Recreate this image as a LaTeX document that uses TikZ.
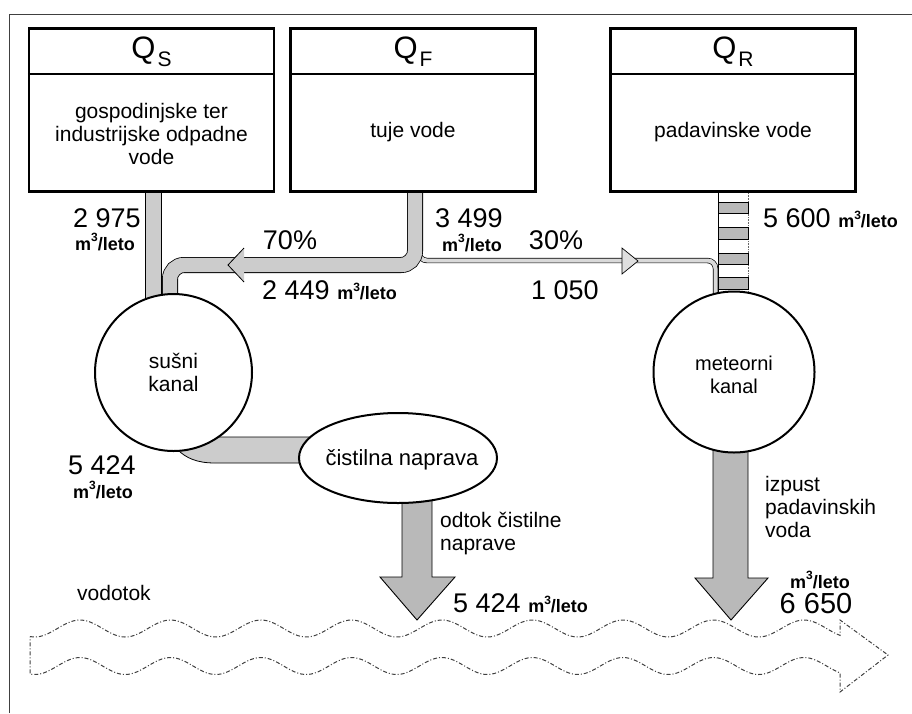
\documentclass[tikz,border=0pt]{standalone}
\usepackage{fontspec}
\setmainfont{Liberation Sans}
\usetikzlibrary{shapes.geometric}
\newcommand\mlt{{\fontsize{18}{20}\selectfont\bfseries m\raisebox{0.45em}{\fontsize{12}{12}\selectfont 3}/leto}}
\newcommand\bignum{\fontsize{27}{30}\selectfont}
\newcommand\bodyfs{\fontsize{21}{23}\selectfont}
\newcommand\qlabel[1]{{\fontsize{31}{33}\selectfont Q\kern2pt\raisebox{-0.25em}{\fontsize{21}{21}\selectfont #1}}}
\begin{document}
\begin{tikzpicture}[x=1pt,y=-1pt,
  box/.style={draw, line width=2.4pt, fill=white, minimum width=245pt, minimum height=163pt, inner sep=0pt},
  txt/.style={inner sep=0pt, font=\bodyfs, align=center},
  num/.style={inner sep=0pt, font=\bignum},
  band/.style={draw=black, line width=0.8pt, fill=gray!40},
  darkband/.style={draw=black, line width=0.9pt, fill=gray!55},
  pipe/.style={line width=0.8pt, double=gray!40, double distance=14.4pt, rounded corners=14pt},
  thinpipe/.style={line width=0.7pt, double=gray!30, double distance=4pt, rounded corners=8pt},
  tank/.style={draw, line width=2pt, fill=white, circle, minimum size=157pt, inner sep=0pt},
  river/.style={draw=black!75, line width=1pt, dash pattern=on 4pt off 2pt on 1pt off 2pt}
]
\useasboundingbox (0,0) rectangle (912,713);
% frame
\draw[line width=1pt, black!75] (9,713) -- (9,14) -- (912,14);

% river
\draw[river] (30,{628.5-8.5*cos(3.978*(30-80))}) -- plot[domain=30:840,samples=240] (\x,{628.5-8.5*cos(3.978*(\x-80))}) -- (840,620) -- (888,655) -- (840,692) -- plot[domain=840:30,samples=240] (\x,{666-8.5*cos(3.978*(\x-80))}) -- cycle;

% pipes
\draw[band] (145,185) rectangle (161,330);
\draw[thinpipe] (419,230) -- (419,260.5) -- (715.5,260.5) -- (715.5,330);
\draw[pipe] (415,180) -- (415,265) -- (170,265) -- (170,330);
% arrow heads on pipes
\fill[gray!40] (244,248) -- (228,265) -- (244,282) -- cycle;
\draw[line width=0.8pt] (244,248) -- (228,265) -- (244,282);
\filldraw[fill=gray!25, draw=black, line width=0.7pt] (622,248) -- (638,261) -- (622,274) -- cycle;
% striped rain pipe
\draw[line width=0.6pt] (718,193) -- (718,300);
\draw[line width=0.6pt, densely dotted, black!60] (748,193) -- (748,300);
\foreach \ya/\yb in {202/213, 227/239, 253/264, 277/289}
  \filldraw[fill=gray!55, draw=black, line width=0.6pt] (718,\ya) rectangle (748,\yb);

% dry channel to treatment plant
\filldraw[band] (190,437) -- (330,437) -- (330,463) -- (215,463) .. controls (197,463) and (186,458) .. (178,450) -- cycle;
% outflow arrows
\filldraw[darkband] (402,470) -- (402,577) -- (380,577) -- (417,620) -- (455,577) -- (432,577) -- (432,470) -- cycle;
\filldraw[darkband] (713,420) -- (713,578) -- (695,578) -- (731,620) -- (768,578) -- (748,578) -- (748,420) -- cycle;

% tanks
\node[tank] (susni) at (173.5,372.5) {};
\node[tank, minimum size=161pt] (meteor) at (734,372) {};
\node[draw, line width=2pt, fill=white, ellipse, minimum width=198pt, minimum height=90pt, inner sep=0pt] (cistilna) at (398,458) {};

% boxes
\node[box] (qs) at (151.5,110) {};
\node[box] (qf) at (413,110) {};
\node[box] (qr) at (733,110) {};
\draw[line width=2pt] (qs.west |- 0,74) -- (qs.east |- 0,74);
\draw[line width=2pt] (qf.west |- 0,74) -- (qf.east |- 0,74);
\draw[line width=2pt] (qr.west |- 0,74) -- (qr.east |- 0,74);

% box texts
\node[inner sep=0pt] (qsl) at (151.5,52) {\qlabel{S}};
\node[inner sep=0pt] (qfl) at (413,52) {\qlabel{F}};
\node[inner sep=0pt] (qrl) at (733,52) {\qlabel{R}};
\node[txt] (qst) at (151.5,134) {gospodinjske ter\\industrijske odpadne\\vode};
\node[txt] (qft) at (413,132) {tuje vode};
\node[txt] (qrt) at (733,132) {padavinske vode};

% tank texts
\node[txt] (susnit) at (173.5,372) {sušni\\kanal};
\node[txt, font=\fontsize{20}{23}\selectfont] (meteort) at (734,375) {meteorni\\kanal};
\node[txt, font=\fontsize{22}{24}\selectfont] (cistilnat) at (402,460) {čistilna naprava};

% quantities
\node[num, anchor=east] (n2975) at (141,218) {2 975};
\node[inner sep=0pt] (m2975) at (105,242) {\mlt};
\node[num] (p70) at (290,240) {70\%};
\node[num, anchor=west] (n2449) at (262,290) {2 449 \mlt};
\node[num, anchor=west] (n3499) at (435,218) {3 499};
\node[inner sep=0pt] (m3499) at (472,243) {\mlt};
\node[num] (p30) at (556,240) {30\%};
\node[num] (n1050) at (565,290) {1 050};
\node[num, anchor=west] (n5600) at (763,218) {5 600 \mlt};
\node[num] (n5424a) at (102,465) {5 424};
\node[inner sep=0pt] (m5424a) at (103,490) {\mlt};
\node[txt, anchor=north west, align=left] (odtok) at (440,512) {odtok čistilne\\naprave};
\node[num, anchor=west] (n5424b) at (453,603) {5 424 \mlt};
\node[txt, anchor=north west, align=left] (izpust) at (765,476) {izpust\\padavinskih\\voda};
\node[inner sep=0pt] (m6650) at (820,580) {\mlt};
\node[num, font=\fontsize{29}{31}\selectfont] (n6650) at (816,604) {6 650};
\node[txt, anchor=west] (vodotok) at (77,593) {vodotok};
\end{tikzpicture}
\end{document}
